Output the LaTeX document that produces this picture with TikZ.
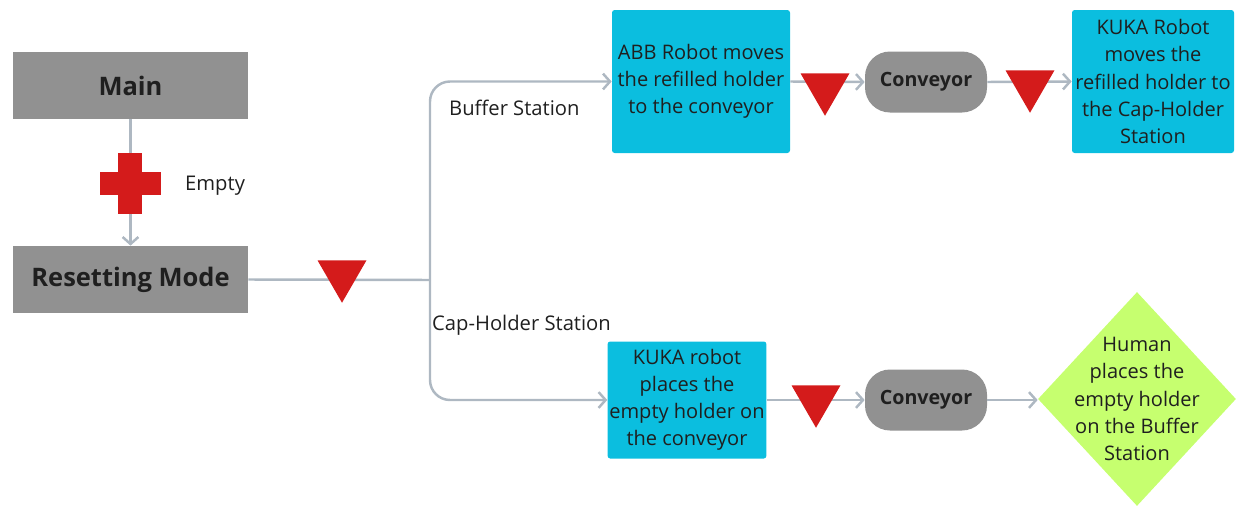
\documentclass[tikz,border=0pt]{standalone}
\usepackage{fontspec}
\setmainfont{Open Sans}
\usepackage{tikz}
\usetikzlibrary{shapes.geometric}
\usetikzlibrary{arrows.meta, positioning}
\usepackage{xcolor}
\definecolor{modeGray}{RGB}{145, 145, 145}
\definecolor{taskCyan}{RGB}{11, 190, 223}
\definecolor{stopRed}{RGB}{212, 27, 27}
\definecolor{humanLime}{RGB}{198, 255, 111}
\definecolor{flowGray}{RGB}{174, 184, 194}
\colorlet{textDark}{black!88}
\tikzset{
    modebox/.style={rectangle, fill=modeGray, minimum width=4.7cm, minimum height=1.34cm,
        text=textDark, font=\bfseries\fontsize{14.5}{17}\selectfont},
    taskbox/.style={rectangle, rounded corners=1.5pt, fill=taskCyan, align=center,
        inner xsep=1pt, text=textDark, font=\fontsize{11.4}{15.4}\selectfont},
    beltbox/.style={rectangle, rounded corners=0.5cm, fill=modeGray, minimum width=2.44cm,
        minimum height=1.22cm, text=textDark, font=\bfseries\fontsize{11.2}{13}\selectfont},
    humanbox/.style={diamond, fill=humanLime, minimum width=3.96cm, minimum height=4.28cm,
        inner sep=-0.9cm, align=center, text=textDark, font=\fontsize{11.4}{15.4}\selectfont},
    gatetri/.style={regular polygon, regular polygon sides=3, shape border rotate=180,
        fill=stopRed, minimum size=1.13cm, inner sep=0pt},
    flow/.style={draw=flowGray, line width=1.4pt, -{Straight Barb[length=4pt, width=9pt]}},
    plainflow/.style={draw=flowGray, line width=1.4pt},
    branchtext/.style={text=textDark, font=\fontsize{11.5}{13}\selectfont}
}
\def\plusmark#1{
    \fill[stopRed] (#1) ++(-0.61,-0.23) rectangle ++(1.22,0.46);
    \fill[stopRed] (#1) ++(-0.24,-0.61) rectangle ++(0.48,1.22);
}

\begin{document}
\begin{tikzpicture}
    \useasboundingbox (0,0) rectangle (24.84,10.12);

    % Modes on the left
    \node[modebox] (mainbox) at (2.61,8.41) {Main};
    \node[modebox] (resetbox) at (2.61,4.53) {Resetting Mode};
    \coordinate (emptymark) at (2.60,6.46);
    \node[branchtext, anchor=west] (emptytext) at (3.58,6.40) {Empty};

    % Buffer Station branch
    \node[taskbox, minimum width=3.56cm, minimum height=2.86cm] (abbbox) at (14.02,8.49)
        {ABB Robot moves\\the refilled holder\\to the conveyor};
    \node[beltbox] (beltA) at (18.52,8.48) {Conveyor};
    \node[taskbox, minimum width=3.24cm, minimum height=2.86cm] (kukatop) at (23.06,8.49)
        {KUKA Robot\\moves the\\refilled holder to\\the Cap-Holder\\Station};

    % Cap-Holder Station branch
    \node[taskbox, minimum width=3.16cm, minimum height=2.34cm] (kukabottom) at (13.74,2.12)
        {KUKA robot\\places the\\empty holder on\\the conveyor};
    \node[beltbox] (beltB) at (18.52,2.12) {Conveyor};
    \node[humanbox] (humanbox) at (22.74,2.14)
        {Human\\places the\\empty holder\\on the Buffer\\Station};

    % Connectors
    \draw[flow] (mainbox.south) -- (resetbox.north);
    \coordinate (split) at (8.6,4.52);
    \draw[plainflow] (resetbox.east) -- (split);
    \draw[flow, rounded corners=0.4cm] (split) |- (abbbox.west);
    \draw[flow, rounded corners=0.4cm] (split) |- (kukabottom.west);
    \draw[flow] (abbbox.east) -- (beltA.west);
    \draw[flow] (beltA.east) -- (kukatop.west);
    \draw[flow] (kukabottom.east) -- (beltB.west);
    \draw[flow] (beltB.east) -- (humanbox.west |- beltB.east);

    % Branch labels
    \node[branchtext, anchor=west] (buffertext) at (8.86,7.96) {Buffer Station};
    \node[branchtext, anchor=west] (captext) at (8.52,3.62) {Cap-Holder Station};

    % Red markers
    \plusmark{emptymark}
    \node[gatetri] (gateR) at (6.84,4.63) {};
    \node[gatetri] (gateA) at (16.50,8.37) {};
    \node[gatetri] (gateB) at (20.60,8.43) {};
    \node[gatetri] (gateC) at (16.32,2.13) {};
\end{tikzpicture}
\end{document}
